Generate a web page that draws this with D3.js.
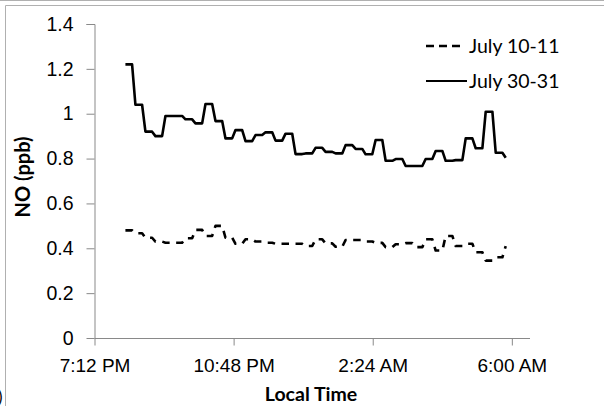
<!DOCTYPE html>
<html><head><meta charset="utf-8">
<script src="https://cdn.jsdelivr.net/npm/d3@7"></script>
<style>body{margin:0;background:#fff;}svg{display:block;font-family:Lato,"Open Sans",sans-serif;}</style>
</head><body>
<svg id="c" width="604" height="406"></svg>
<script>
// Time axis (hours since midnight of first day; >24 = next morning)
const xTickValues = [19.2, 22.8, 26.4, 30.0];
const xTickLabels = ["7:12 PM", "10:48 PM", "2:24 AM", "6:00 AM"];
const yTickValues = [0, 0.2, 0.4, 0.6, 0.8, 1, 1.2, 1.4];
const seriesNames = ["July 10-11", "July 30-31"];
const startHour = 20.0;      // 8:00 PM
const stepMinutes = 5.18;    // sampling interval

// NO (ppb), July 10-11 (dashed)
const july1011 = [
0.48,0.48,0.48, 0.467,0.467,0.467, 0.447,0.447,0.447, 0.43,0.43,0.43,
0.425,0.425,0.425, 0.425,0.425,0.425, 0.445,0.445,0.445, 0.482,0.482,0.482,
0.455,0.455,0.455, 0.50,0.50,0.50, 0.447,0.447,0.447, 0.42,0.42,0.42,
0.44,0.44,0.44, 0.43,0.43,0.43, 0.425,0.425,0.425, 0.42,0.42,0.42,
0.42,0.42,0.42, 0.42,0.42,0.42, 0.41,0.41,0.41, 0.44,0.44,0.44,
0.422,0.422,0.422, 0.407,0.407,0.407, 0.437,0.437,0.437, 0.437,0.437,0.437,
0.43,0.43,0.43, 0.424,0.424,0.424, 0.405,0.405,0.405, 0.418,0.418,0.418,
0.423,0.423,0.423, 0.405,0.405,0.405, 0.44,0.44,0.44, 0.39,0.39,0.39,
0.455,0.455,0.455, 0.41,0.41,0.41, 0.42,0.42,0.42, 0.382,0.382,0.382,
0.345,0.345,0.345, 0.36,0.36,0.36, 0.41
];
// NO (ppb), July 30-31 (solid)
const july3031 = [
1.22,1.22,1.22, 1.04,1.04,1.04, 0.92,0.92,0.92, 0.90,0.90,0.90,
0.99,0.99,0.99, 0.99,0.99,0.99, 0.975,0.975,0.975, 0.957,0.957,0.957,
1.043,1.043,1.043, 0.967,0.967,0.967, 0.89,0.89,0.89, 0.927,0.927,0.927,
0.878,0.878,0.878, 0.905,0.905,0.905, 0.917,0.917,0.917, 0.88,0.88,0.88,
0.911,0.911,0.911, 0.82,0.82,0.82, 0.823,0.823,0.823, 0.848,0.848,0.848,
0.83,0.83,0.83, 0.823,0.823,0.823, 0.86,0.86,0.86, 0.843,0.843,0.843,
0.819,0.819,0.819, 0.883,0.883,0.883, 0.79,0.79,0.79, 0.798,0.798,0.798,
0.767,0.767,0.767, 0.767,0.767,0.767, 0.798,0.798,0.798, 0.834,0.834,0.834,
0.79,0.79,0.79, 0.793,0.793,0.793, 0.89,0.89,0.89, 0.846,0.846,0.846,
1.009,1.009,1.009, 0.826,0.826,0.826, 0.804
];

const svg = d3.select("#c");
const axisColor = "#898989";

// outer frame lines
svg.append("line").attr("x1",0).attr("x2",604).attr("y1",0.5).attr("y2",0.5).attr("stroke","#b0b0b0").attr("stroke-width",1);
svg.append("path").attr("d","M5.5,406 V5.5 H604").attr("fill","none").attr("stroke","#b0b0b0").attr("stroke-width",1);
svg.append("text").attr("x",-2).attr("y",403).attr("font-size",17).attr("fill","#000").text(")");

const x = d3.scaleLinear().domain([19.2, 30.47]).range([94.5, 530]);
const y = d3.scaleLinear().domain([0, 1.4]).range([338, 24]);

// Y axis
const yAxis = d3.axisLeft(y).tickValues(yTickValues).tickSize(8).tickPadding(13)
  .tickFormat(d => d3.format("")(+d.toFixed(1)));
const gy = svg.append("g").attr("transform","translate(94.5,0)").call(yAxis);
gy.selectAll(".tick line").attr("stroke",axisColor);
gy.selectAll(".tick text").attr("font-size",19.5).attr("fill","#000");
gy.select(".domain").attr("d","M-8,24.5H0.5V338.5").attr("stroke",axisColor);

// X axis
const xAxis = d3.axisBottom(x).tickValues(xTickValues).tickSize(7).tickPadding(13)
  .tickFormat((d,i) => xTickLabels[i]);
const gx = svg.append("g").attr("transform","translate(0,338.5)").call(xAxis);
gx.select(".domain").attr("stroke",axisColor).attr("d","M94.5,0H530");
gx.selectAll(".tick line").attr("stroke",axisColor);
gx.selectAll(".tick text").attr("font-size",19).attr("fill","#000");

// Lines
const toPts = arr => arr.map((v,i) => [startHour + i*stepMinutes/60, v]);
const line = d3.line().x(d => x(d[0])).y(d => y(d[1]));
svg.append("path").datum(toPts(july1011)).attr("d", line)
  .attr("fill","none").attr("stroke","#000").attr("stroke-width",2.6)
  .attr("stroke-dasharray","7.5,6.5").attr("stroke-linejoin","round");
svg.append("path").datum(toPts(july3031)).attr("d", line)
  .attr("fill","none").attr("stroke","#000").attr("stroke-width",2.6)
  .attr("stroke-linejoin","round");

// Axis titles
svg.append("text").attr("x",311).attr("y",401).attr("text-anchor","middle")
  .attr("font-size",19.5).attr("font-weight","bold").text("Local Time");
svg.append("text").attr("transform","translate(30,177) rotate(-90)").attr("text-anchor","middle")
  .attr("font-size",20).attr("font-weight","bold").text("NO (ppb)");

// Legend
const leg = svg.append("g");
leg.append("line").attr("x1",426).attr("x2",464).attr("y1",46).attr("y2",46)
  .attr("stroke","#000").attr("stroke-width",2.6).attr("stroke-dasharray","8,5");
leg.append("line").attr("x1",426).attr("x2",467).attr("y1",81).attr("y2",81)
  .attr("stroke","#000").attr("stroke-width",2);
leg.append("text").attr("x",469).attr("y",53).attr("font-size",19.5).text(seriesNames[0]);
leg.append("text").attr("x",469).attr("y",88).attr("font-size",19.5).text(seriesNames[1]);
</script>
</body></html>
